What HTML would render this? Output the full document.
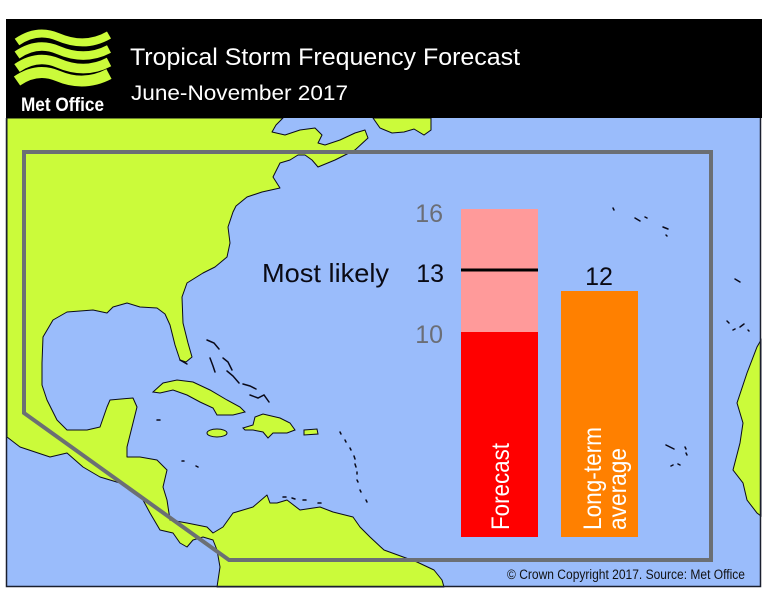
<!DOCTYPE html>
<html><head><meta charset="utf-8"><style>
html,body{margin:0;padding:0;background:#fff;}
svg{display:block;}
text{font-family:"Liberation Sans",Arial,sans-serif;}
</style></head><body>
<svg width="768" height="597" viewBox="0 0 768 597" xmlns="http://www.w3.org/2000/svg">
<rect x="0" y="0" width="768" height="597" fill="#fff"/>
<!-- ocean -->
<rect x="6" y="118" width="755" height="469" fill="#9abcfb"/>
<!-- main land -->
<path fill="#cbfb3a" stroke="#0a0a1a" stroke-width="1" stroke-linejoin="round" d="M7,118 L283,118 L276,125 L272,132 L285,135 L300,130 L315,128 L322,135 L318,143 L325,145 L340,140 L355,133 L365,130 L368,138 L355,150 L335,160 L318,167 L312,160 L305,155 L298,155 L290,160 L280,163 L273,177 L280,188 L262,192 L247,197 L236,206 L233,212 L228,227 L230,243 L227,257 L215,267 L203,273 L187,283 L182,297 L183,323 L188,343 L192,357 L186,362 L180,360 L175,345 L170,325 L165,314 L157,308 L140,307 L127,303 L113,307 L107,313 L93,310 L67,312 L53,320 L43,337 L42,363 L42,385 L47,400 L57,420 L67,430 L87,430 L100,427 L107,407 L110,400 L133,398 L137,407 L133,423 L127,447 L127,457 L140,457 L157,460 L167,470 L163,487 L167,500 L170,520 L187,523 L207,527 L213,533 L223,527 L233,513 L243,510 L253,507 L267,495 L270,503 L277,503 L287,500 L300,510 L320,507 L333,512 L353,517 L360,527 L370,537 L384,550 L417,562 L434,570 L442,580 L444,587 L217,587 L220,567 L217,550 L213,540 L203,537 L193,540 L187,547 L180,543 L173,533 L160,530 L150,513 L143,500 L133,490 L120,483 L100,477 L83,467 L67,453 L50,457 L20,447 L7,437 Z"/>
<!-- Newfoundland -->
<path fill="#cbfb3a" stroke="#0a0a1a" stroke-width="1" d="M373,118 L431,118 L431,130 L424,135 L414,129 L404,132 L392,133 L380,128 Z"/>
<!-- Cuba -->
<path fill="#cbfb3a" stroke="#0a0a1a" stroke-width="1" d="M153,392 L163,383 L177,380 L193,382 L210,390 L227,400 L240,407 L245,412 L233,415 L217,415 L213,408 L200,402 L187,395 L173,390 L160,393 Z"/>
<!-- Hispaniola -->
<path fill="#cbfb3a" stroke="#0a0a1a" stroke-width="1" d="M243,428 L253,425 L255,417 L263,414 L280,418 L290,423 L295,430 L287,433 L273,433 L268,438 L263,432 L253,430 L245,430 Z"/>
<!-- Jamaica -->
<ellipse cx="217" cy="433" rx="10" ry="4" fill="#cbfb3a" stroke="#0a0a1a" stroke-width="1"/>
<!-- Puerto Rico -->
<path fill="#cbfb3a" stroke="#0a0a1a" stroke-width="1" d="M304,430 L317,429 L318,434 L304,435 Z"/>
<!-- Africa -->
<path fill="#cbfb3a" stroke="#0a0a1a" stroke-width="1" d="M761,340 L757,347 L747,373 L737,403 L743,423 L740,443 L733,470 L743,483 L747,500 L757,513 L761,516 Z"/>
<!-- small islands -->
<g fill="none" stroke="#0a0a1a" stroke-width="1.5" stroke-linecap="round">
<path d="M207,340 L214,343 L219,349"/>
<path d="M210,358 L213,366 L215,372"/>
<path d="M223,358 L228,362 L232,370"/>
<path d="M227,371 L233,376 L239,383"/>
<path d="M243,384 L250,386 L256,389"/>
<path d="M250,395 L258,398 L264,395 L269,402"/>
<path d="M180,360 L187,364"/>
<path d="M340,432 L341,434"/><path d="M345,440 L346,442"/><path d="M350,448 L351,450"/>
<path d="M354,456 L355,459"/><path d="M355,464 L356,467"/><path d="M357,472 L357,474"/>
<path d="M357,480 L358,482"/><path d="M360,490 L361,492"/><path d="M366,500 L367,502"/>
<path d="M283,497 L286,497"/><path d="M292,498 L295,499"/><path d="M303,500 L306,500"/><path d="M318,503 L321,503"/>
<path d="M613,208 L614,210"/><path d="M635,218 L640,221"/><path d="M645,217 L647,218"/><path d="M663,227 L668,229"/><path d="M666,235 L667,236"/>
<path d="M735,279 L740,282"/>
<path d="M727,321 L729,323"/><path d="M733,330 L735,329"/><path d="M740,327 L744,324"/><path d="M748,330 L749,331"/>
<path d="M666,445 L670,447 L674,449"/><path d="M685,447 L686,449"/><path d="M686,453 L687,455"/><path d="M671,466 L673,465"/><path d="M678,464 L680,465"/>
<path d="M157,420 L160,420"/><path d="M182,461 L184,461"/><path d="M196,466 L198,467"/>
</g>
<!-- gray region box -->
<path d="M24,152 L711,152 L711,560 L229,560 L24,413 Z" fill="none" stroke="#6b6f74" stroke-width="4" stroke-linejoin="miter"/>
<!-- map frame lines -->
<path d="M6.5,118 L6.5,586.5 L760.5,586.5 L760.5,118" fill="none" stroke="#1a1f2e" stroke-width="1.5"/>
<!-- header -->
<rect x="6" y="19" width="756" height="99" fill="#000"/>
<!-- logo waves -->
<g fill="none" stroke="#cbfb3a" stroke-linecap="butt">
<path stroke-width="8" d="M17,42 C30,33 44,31 58,37 S90,46 109,35"/>
<path stroke-width="8.5" d="M17,55 C30,46 44,44 58,50 S90,59 109,49"/>
<path stroke-width="9.5" d="M17,68 C30,59 44,57 58,63 S90,72 109,62"/>
<path stroke-width="11" d="M17,81 C30,72 44,70 58,76 S90,84 109,74"/>
</g>
<text x="21" y="111" fill="#fff" font-size="19" font-weight="bold" textLength="83" lengthAdjust="spacingAndGlyphs">Met Office</text>
<text x="130" y="65" fill="#fff" font-size="24" textLength="390" lengthAdjust="spacingAndGlyphs">Tropical Storm Frequency Forecast</text>
<text x="131" y="100" fill="#fff" font-size="21" textLength="217" lengthAdjust="spacingAndGlyphs">June-November 2017</text>
<!-- bars -->
<rect x="461" y="209" width="77" height="123" fill="#ff9a9a"/>
<rect x="461" y="332" width="77" height="205" fill="#ff0000"/>
<rect x="461" y="268.5" width="77" height="3" fill="#000"/>
<rect x="561" y="291" width="77" height="246" fill="#ff8000"/>
<text transform="translate(509,530) rotate(-90)" fill="#fff" font-size="25" textLength="87" lengthAdjust="spacingAndGlyphs">Forecast</text>
<text transform="translate(601,530) rotate(-90)" fill="#fff" font-size="25" textLength="103" lengthAdjust="spacingAndGlyphs">Long-term</text>
<text transform="translate(626,530) rotate(-90)" fill="#fff" font-size="25" textLength="82" lengthAdjust="spacingAndGlyphs">average</text>
<!-- labels -->
<text x="262" y="282" fill="#0a0a14" font-size="26" textLength="127" lengthAdjust="spacingAndGlyphs">Most likely</text>
<text x="444" y="282" fill="#0a0a14" font-size="25" text-anchor="end">13</text>
<text x="443" y="222" fill="#6b6e76" font-size="25" text-anchor="end">16</text>
<text x="443" y="343" fill="#6b6e76" font-size="25" text-anchor="end">10</text>
<text x="599" y="285" fill="#0a0a14" font-size="25" text-anchor="middle">12</text>
<text x="507" y="579" fill="#111" font-size="13.5" textLength="238" lengthAdjust="spacingAndGlyphs">© Crown Copyright 2017. Source: Met Office</text>
</svg>
</body></html>
